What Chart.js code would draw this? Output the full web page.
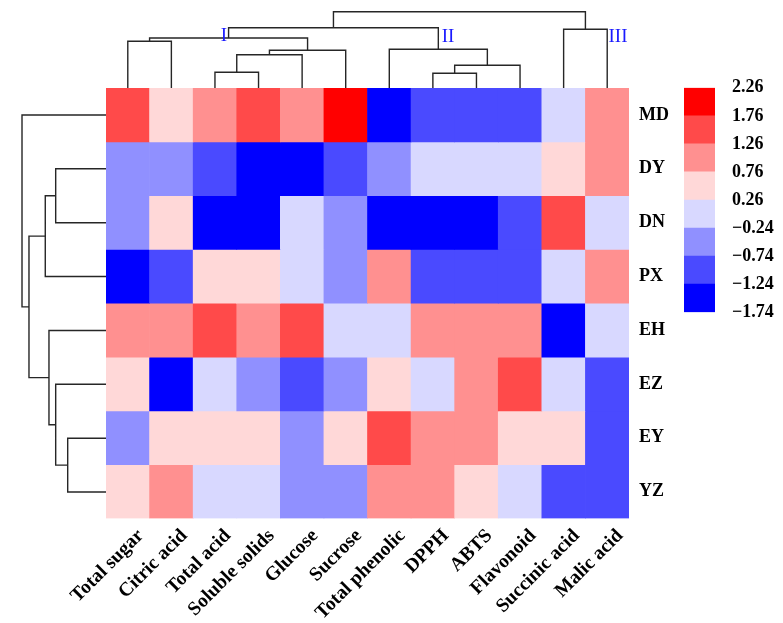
<!DOCTYPE html>
<html>
<head>
<meta charset="utf-8">
<title>Heatmap</title>
<script src="https://cdn.jsdelivr.net/npm/chart.js@4.4.1/dist/chart.umd.min.js"></script>
<style>
  html, body { margin: 0; padding: 0; background: #fff; }
  #wrap { position: relative; width: 783px; height: 623px; overflow: hidden; }
  #wrap canvas { position: absolute; }
  .tag { position: absolute; font-family: 'Liberation Serif', 'Times New Roman', serif; font-size: 19px;
         line-height: 1; color: #1a1aff; transform: translate(-50%, -50%); white-space: nowrap; }
</style>
</head>
<body>
<div id="wrap">
  <canvas id="heatChart" width="783" height="623" style="left:0px;top:0px"></canvas>
  <canvas id="colDendro" width="783" height="88" style="left:0px;top:0px"></canvas>
  <canvas id="rowDendro" width="106" height="431" style="left:0px;top:88px"></canvas>
  <canvas id="scaleChart" width="123" height="280" style="left:660px;top:60px"></canvas>
  <span class="tag" style="left:224px;top:34px">I</span>
  <span class="tag" style="left:448px;top:35px">II</span>
  <span class="tag" style="left:618px;top:35px">III</span>
</div>
<script>
// Columnas (variables) y filas (muestras), en el orden del dendrograma
const colNames = ['Total sugar', 'Citric acid', 'Total acid', 'Soluble solids', 'Glucose', 'Sucrose',
                  'Total phenolic', 'DPPH', 'ABTS', 'Flavonoid', 'Succinic acid', 'Malic acid'];
const rowNames = ['MD', 'DY', 'DN', 'PX', 'EH', 'EZ', 'EY', 'YZ'];

// Valores estandarizados por fila (leídos por el color de cada celda)
const MD = [1.5, 0.5, 1.0, 1.5, 1.0, 2.0, -1.5, -1.0, -1.0, -1.0, 0.0, 1.0];
const DY = [-0.5, -0.5, -1.0, -1.5, -1.5, -1.0, -0.5, 0.0, 0.0, 0.0, 0.5, 1.0];
const DN = [-0.5, 0.5, -1.5, -1.5, 0.0, -0.5, -1.5, -1.5, -1.5, -1.0, 1.5, 0.0];
const PX = [-1.5, -1.0, 0.5, 0.5, 0.0, -0.5, 1.0, -1.0, -1.0, -1.0, 0.0, 1.0];
const EH = [1.0, 1.0, 1.5, 1.0, 1.5, 0.0, 0.0, 1.0, 1.0, 1.0, -1.5, 0.0];
const EZ = [0.5, -1.5, 0.0, -0.5, -1.0, -0.5, 0.5, 0.0, 1.0, 1.5, 0.0, -1.0];
const EY = [-0.5, 0.5, 0.5, 0.5, -0.5, 0.5, 1.5, 1.0, 1.0, 0.5, 0.5, -1.0];
const YZ = [0.5, 1.0, 0.0, 0.0, -0.5, -0.5, 1.0, 1.0, 0.5, 0.0, -1.0, -1.0];
const heatRows = [MD, DY, DN, PX, EH, EZ, EY, YZ];

// Escala de color por intervalos
const breaks = [-1.74, -1.24, -0.74, -0.24, 0.26, 0.76, 1.26, 1.76, 2.26];
const palette = ['#0000FF', '#4A4AFF', '#9090FF', '#D8D8FF', '#FFD8D8', '#FF9090', '#FF4A4A', '#FF0000'];

// Dendrogramas: [hijo izq, hijo der, altura]; hojas 0..n-1, nodos nuevos n, n+1, ...
const colMerges = [
    [2, 3, 2.06],    // 12
    [7, 8, 1.93],    // 13
    [13, 9, 2.98],   // 14
    [12, 4, 4.36],   // 15
    [15, 5, 4.94],   // 16
    [6, 14, 5.07],   // 17  grupo II
    [0, 1, 6.12],    // 18
    [18, 16, 6.55],  // 19  grupo I
    [10, 11, 7.69],  // 20  grupo III
    [19, 17, 7.90],  // 21
    [21, 20, 10.0]   // 22
];
const rowMerges = [
    [6, 7, 4.56],    // 8
    [1, 2, 5.99],    // 9
    [5, 8, 5.99],    // 10
    [4, 10, 6.79],   // 11
    [9, 3, 7.23],    // 12
    [12, 11, 9.17],  // 13
    [0, 13, 10.0]    // 14
];

const serif = "'Liberation Serif', 'Times New Roman', serif";
Chart.defaults.font.family = serif;
Chart.defaults.color = '#000';

function colorFor(v) {
    for (let i = 0; i < palette.length; i++) {
        if (v <= breaks[i + 1]) return palette[i];
    }
    return palette[palette.length - 1];
}

function minusText(v) {
    return v < 0 ? '\u2212' + Math.abs(v).toFixed(2) : v.toFixed(2);
}

// Convierte las uniones en segmentos en forma de U (con huecos entre ellos)
function dendroPoints(merges, nLeaves, horizontal) {
    const pos = [], hgt = [], pts = [];
    for (let i = 0; i < nLeaves; i++) { pos.push(i + 0.5); hgt.push(0); }
    merges.forEach(([a, b, h]) => {
        [[pos[a], hgt[a]], [pos[a], h], [pos[b], h], [pos[b], hgt[b]]].forEach(([p, v]) => {
            pts.push(horizontal ? { x: v, y: p } : { x: p, y: v });
        });
        pts.push({ x: 0, y: null });
        pos.push((pos[a] + pos[b]) / 2);
        hgt.push(h);
    });
    return pts;
}

const noPlugins = { legend: { display: false }, tooltip: { enabled: false } };
const labelFont = { family: serif, size: 18, weight: 'bold' };
const colFont = { family: serif, size: 19.5, weight: 'bold' };

// Mapa de calor (barras flotantes, una serie por fila)
new Chart(document.getElementById('heatChart'), {
    type: 'bar',
    data: {
        labels: colNames,
        datasets: rowNames.map((name, r) => ({
            label: name,
            data: colNames.map(() => [r, r + 1]),
            backgroundColor: heatRows[r].map(colorFor),
            borderWidth: 0,
            barPercentage: 1,
            categoryPercentage: 1,
            grouped: false
        }))
    },
    options: {
        responsive: false,
        animation: false,
        layout: { padding: { left: 106, top: 88, right: 0, bottom: 0 } },
        plugins: noPlugins,
        scales: {
            x: {
                position: 'bottom',
                grid: { display: false, drawTicks: false },
                border: { display: false },
                ticks: { autoSkip: false, minRotation: 45, maxRotation: 45, labelOffset: 13, padding: 6, font: colFont, color: '#000' },
                afterFit: s => { s.height = 104.5; }
            },
            y: {
                type: 'linear',
                position: 'right',
                min: 0,
                max: 8,
                reverse: true,
                grid: { display: false, drawTicks: false },
                border: { display: false },
                afterBuildTicks: s => { s.ticks = rowNames.map((_, i) => ({ value: i + 0.5 })); },
                ticks: { callback: (v, i) => rowNames[i], padding: 10, font: labelFont, color: '#000' },
                afterFit: s => { s.width = 154; }
            }
        }
    }
});

const lineStyle = { borderColor: '#262626', borderWidth: 1.4, pointRadius: 0, showLine: true, spanGaps: false, fill: false };

// Dendrograma de columnas (arriba)
new Chart(document.getElementById('colDendro'), {
    type: 'scatter',
    data: { datasets: [Object.assign({ data: dendroPoints(colMerges, colNames.length, false) }, lineStyle)] },
    options: {
        responsive: false,
        animation: false,
        layout: { padding: { left: 106, right: 154, top: 0, bottom: 0 } },
        plugins: noPlugins,
        scales: {
            x: { type: 'linear', min: 0, max: colNames.length, display: false },
            y: { type: 'linear', min: 0, max: 11.53, display: false }
        }
    }
});

// Dendrograma de filas (izquierda)
new Chart(document.getElementById('rowDendro'), {
    type: 'scatter',
    data: { datasets: [Object.assign({ data: dendroPoints(rowMerges, rowNames.length, true) }, lineStyle)] },
    options: {
        responsive: false,
        animation: false,
        layout: { padding: 0 },
        plugins: noPlugins,
        scales: {
            x: { type: 'linear', min: 0, max: 12.62, reverse: true, display: false },
            y: { type: 'linear', min: 0, max: rowNames.length, reverse: true, display: false }
        }
    }
});

// Barra de color
new Chart(document.getElementById('scaleChart'), {
    type: 'bar',
    data: {
        labels: [''],
        datasets: palette.map((c, i) => ({
            data: [[breaks[i], breaks[i + 1]]],
            backgroundColor: c,
            borderWidth: 0,
            barPercentage: 1,
            categoryPercentage: 1,
            grouped: false
        }))
    },
    options: {
        responsive: false,
        animation: false,
        layout: { padding: { left: 24, top: 25, right: 0, bottom: 20 } },
        plugins: noPlugins,
        scales: {
            x: { display: false },
            y: {
                type: 'linear',
                position: 'right',
                min: breaks[0],
                max: breaks[breaks.length - 1],
                grid: { display: false, drawTicks: false },
                border: { display: false },
                afterBuildTicks: s => { s.ticks = breaks.map(v => ({ value: v })); },
                ticks: { callback: v => minusText(v), padding: 17, font: labelFont, color: '#000' },
                afterFit: s => { s.width = 68; }
            }
        }
    }
});
</script>
</body>
</html>
